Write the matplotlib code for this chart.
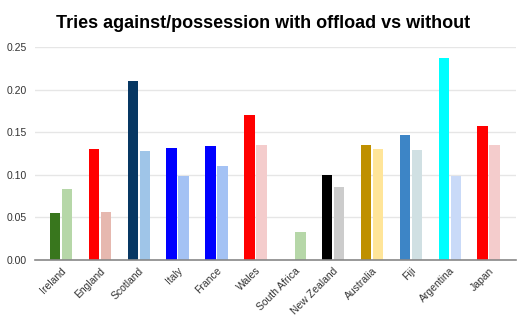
import matplotlib.pyplot as plt
import numpy as np

plt.rcParams['font.family'] = ['Liberation Sans', 'DejaVu Sans']

teams = ['Ireland', 'England', 'Scotland', 'Italy', 'France', 'Wales',
         'South Africa', 'New Zealand', 'Australia', 'Fiji', 'Argentina', 'Japan']
with_offload = [0.055, 0.131, 0.210, 0.132, 0.134, 0.170,
                0.0, 0.100, 0.135, 0.147, 0.237, 0.157]
without_offload = [0.083, 0.057, 0.128, 0.099, 0.111, 0.135,
                   0.033, 0.086, 0.130, 0.129, 0.099, 0.135]

# team colours: strong shade for offload, pale shade for without
strong = ['#38761d', '#ff0000', '#073763', '#0000ff', '#0000ff', '#ff0000',
          '#38761d', '#000000', '#bf9000', '#3d85c6', '#00ffff', '#ff0000']
pale = ['#b6d7a8', '#e6b8af', '#9fc5e8', '#a4c2f4', '#a4c2f4', '#f4cccc',
        '#b6d7a8', '#cccccc', '#ffe599', '#d0e0e3', '#c9daf8', '#f4cccc']

fig = plt.figure(figsize=(5.19, 3.29), dpi=100)
ax = fig.add_axes([0.0674, 0.2097, 0.9266, 0.6466])

x = np.arange(len(teams))
w = 0.27
ax.bar(x - w / 2 - 0.02, with_offload, w, color=strong, zorder=3)
ax.bar(x + w / 2 + 0.02, without_offload, w, color=pale, zorder=3)

ax.set_xlim(-0.67, 11.7)
ax.set_ylim(0, 0.25)
ax.set_yticks([0, 0.05, 0.10, 0.15, 0.20, 0.25])
ax.set_yticklabels(['0.00', '0.05', '0.10', '0.15', '0.20', '0.25'])
ax.grid(axis='y', color='#e6e6e6', linewidth=1, zorder=0)

ax.set_xticks(x)
ax.set_xticklabels(teams, rotation=45, ha='right', rotation_mode='anchor')
ax.tick_params(axis='both', length=0, labelsize=7.5, colors='#333333')
ax.tick_params(axis='x', pad=4)
ax.tick_params(axis='y', pad=6)

for s in ['top', 'right', 'left']:
    ax.spines[s].set_visible(False)
ax.spines['bottom'].set_color('#888888')
ax.spines['bottom'].set_linewidth(1.2)
ax.spines['bottom'].set_zorder(4)

fig.text(0.507, 0.93, 'Tries against/possession with offload vs without',
         ha='center', va='center', fontsize=13, fontweight='bold')

fig.savefig('out.png', dpi=100)
